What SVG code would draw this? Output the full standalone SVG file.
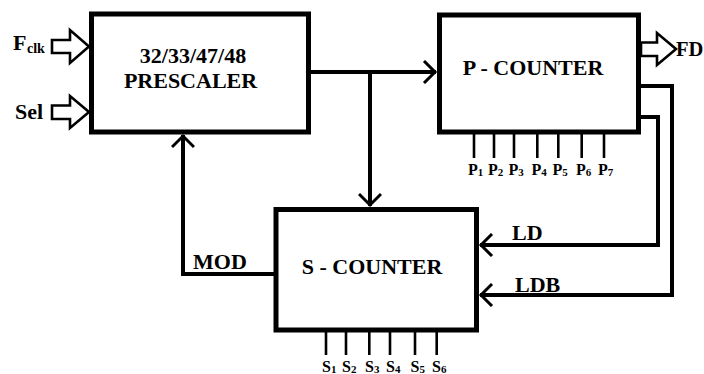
<svg xmlns="http://www.w3.org/2000/svg" width="704" height="374" viewBox="0 0 704 374">
<style>
.box{fill:#fff;stroke:#000;stroke-width:5}
.ln{fill:none;stroke:#000;stroke-width:4}
.pin{fill:none;stroke:#000;stroke-width:2.6}
.hol{fill:#fff;stroke:#000;stroke-width:2.6;stroke-linejoin:miter}
text{font-family:"Liberation Serif","Times New Roman",serif;font-weight:bold;fill:#000}
.big{font-size:22px}
.pl{font-size:16px}
.sub{font-size:11px}
</style>
<defs>
<marker id="ah" viewBox="0 0 20 24" refX="18" refY="12" markerWidth="20" markerHeight="24" markerUnits="userSpaceOnUse" orient="auto">
<path d="M6,1 L17,12 L6,23" fill="none" stroke="#000" stroke-width="3"/>
</marker>
</defs>
<g id="connectors">
<polyline class="ln" points="310,72 436,72" marker-end="url(#ah)"/>
<polyline class="ln" points="370,72 370,206" marker-end="url(#ah)"/>
<polyline class="ln" points="276,274 183,274 183,135" marker-end="url(#ah)"/>
<polyline class="ln" points="640,117 658,117 658,245 480,245" marker-end="url(#ah)"/>
<polyline class="ln" points="640,86 672,86 672,295 480,295" marker-end="url(#ah)"/>
</g>
<g id="fclk">
<polygon class="hol" points="52,40 70,40 70,30 89,46.5 70,63 70,53 52,53"/>
<text class="big" x="13" y="50">F</text><text x="27" y="53" font-size="14px">clk</text>
</g>
<g id="sel">
<polygon class="hol" points="52,105.5 70,105.5 70,96 89,112 70,128 70,119 52,119"/>
<text class="big" x="15" y="119">Sel</text>
</g>
<g id="prescaler">
<rect class="box" x="91.5" y="14" width="217" height="118"/>
<text class="big" x="193" y="63" text-anchor="middle">32/33/47/48</text>
<text class="big" x="190.5" y="88" text-anchor="middle">PRESCALER</text>
</g>
<g id="p-counter">
<rect class="box" x="439.5" y="15" width="199" height="117"/>
<text class="big" x="533" y="75" text-anchor="middle">P - COUNTER</text>
<path class="pin" d="M474,134V158M494,134V158M514,134V158M537.3,134V158M558.3,134V158M581.7,134V158M604,134V158"/>
<text class="pl" x="468" y="175">P<tspan class="sub" dy="1">1</tspan></text>
<text class="pl" x="488" y="175">P<tspan class="sub" dy="1">2</tspan></text>
<text class="pl" x="508.5" y="175">P<tspan class="sub" dy="1">3</tspan></text>
<text class="pl" x="531.5" y="175">P<tspan class="sub" dy="1">4</tspan></text>
<text class="pl" x="552.5" y="175">P<tspan class="sub" dy="1">5</tspan></text>
<text class="pl" x="576" y="175">P<tspan class="sub" dy="1">6</tspan></text>
<text class="pl" x="598" y="175">P<tspan class="sub" dy="1">7</tspan></text>
</g>
<g id="fd">
<polygon class="hol" points="641,42.5 657,42.5 657,33 676,49 657,65 657,56 641,56"/>
<text x="676" y="56" font-size="20.5px">FD</text>
</g>
<g id="s-counter">
<rect class="box" x="276" y="209.5" width="200.5" height="120.5"/>
<text class="big" x="372" y="274" text-anchor="middle">S - COUNTER</text>
<path class="pin" d="M326,332V355M346,332V355M369.3,332V355M390,332V355M415,332V355M436.7,332V355"/>
<text class="pl" x="322" y="372">S<tspan class="sub" dy="1">1</tspan></text>
<text class="pl" x="342" y="372">S<tspan class="sub" dy="1">2</tspan></text>
<text class="pl" x="365" y="372">S<tspan class="sub" dy="1">3</tspan></text>
<text class="pl" x="386" y="372">S<tspan class="sub" dy="1">4</tspan></text>
<text class="pl" x="410.5" y="372">S<tspan class="sub" dy="1">5</tspan></text>
<text class="pl" x="432" y="372">S<tspan class="sub" dy="1">6</tspan></text>
</g>
<g id="labels">
<text class="big" x="193" y="269">MOD</text>
<text class="big" x="512" y="240">LD</text>
<text class="big" x="515" y="292">LDB</text>
</g>
</svg>
